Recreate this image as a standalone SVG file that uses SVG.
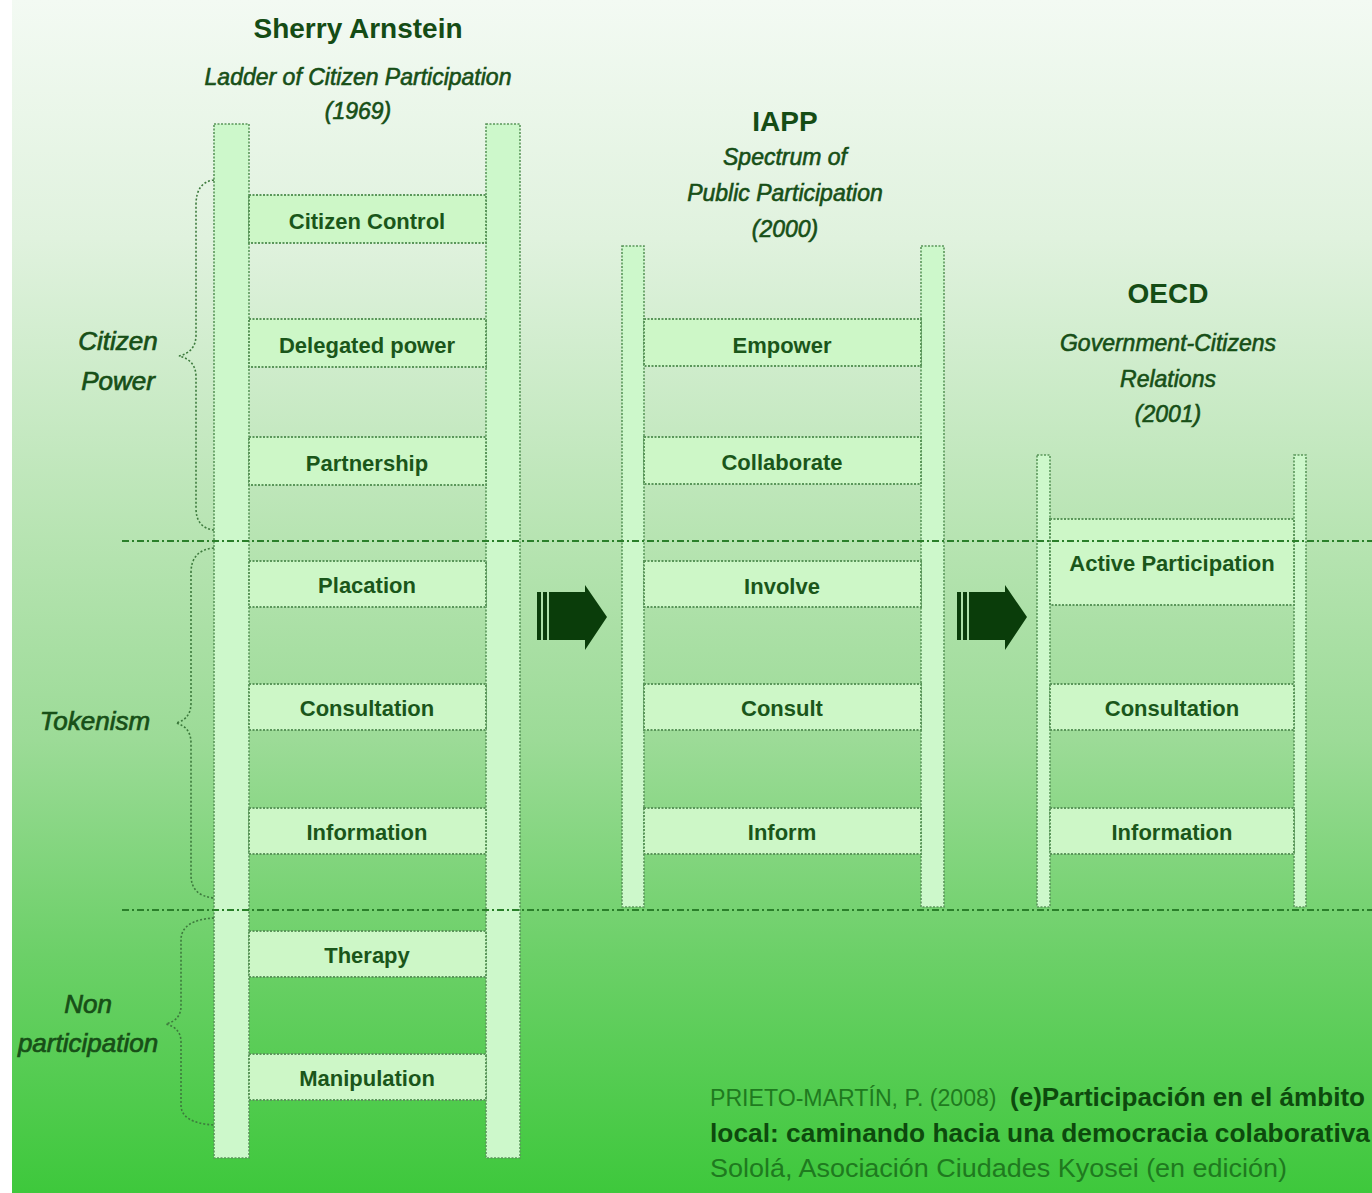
<svg xmlns="http://www.w3.org/2000/svg" width="1372" height="1193" viewBox="0 0 1372 1193">
<defs>
<linearGradient id="bg" x1="0" y1="0" x2="0" y2="1">
<stop offset="0" stop-color="#f3faf3"/>
<stop offset="0.2" stop-color="#e0f2de"/>
<stop offset="0.45" stop-color="#b7e4b2"/>
<stop offset="0.62" stop-color="#9cdb97"/>
<stop offset="0.8" stop-color="#6cd068"/>
<stop offset="1" stop-color="#3ec83c"/>
</linearGradient>
<g id="arrow">
<rect x="0" y="7" width="4" height="48" fill="#0a3d0a"/>
<rect x="6" y="7" width="4" height="48" fill="#0a3d0a"/>
<polygon points="12,7 48,7 48,0 70,32 48,65 48,55 12,55" fill="#0a3d0a"/>
</g>
</defs>
<style>
.rail{fill:#cdf8cb;stroke:#5a965a;stroke-width:1.6;stroke-dasharray:2 1.5}
.rung{fill:#cdf7c7;stroke:#5a965a;stroke-width:2;stroke-dasharray:2 1.5}
.rt{font-family:"Liberation Sans",Arial,sans-serif;font-weight:bold;font-size:22px;fill:#1a561a;text-anchor:middle}
.title{font-family:"Liberation Sans",Arial,sans-serif;font-weight:bold;font-size:28px;fill:#154c15;text-anchor:middle}
.sub{font-family:"Liberation Sans",Arial,sans-serif;font-style:italic;font-size:23px;fill:#174f17;stroke:#174f17;stroke-width:0.6;text-anchor:middle}
.lab{font-family:"Liberation Sans",Arial,sans-serif;font-style:italic;font-size:26px;fill:#174f17;stroke:#174f17;stroke-width:0.7;text-anchor:middle}
.brace{fill:none;stroke:#3d7a3d;stroke-width:1.6;stroke-dasharray:2 2}
.div{stroke:#2a7f2a;stroke-width:2.2;stroke-dasharray:7 3 2 3;fill:none}
.cit{font-family:"Liberation Sans",Arial,sans-serif;font-size:26px;fill:#1f7a1f}
.citb{font-weight:bold;fill:#0d4a0d}
</style>
<rect x="0" y="0" width="1372" height="1193" fill="url(#bg)"/>

<g id="ladder-arnstein">
<text class="title" x="358" y="38">Sherry Arnstein</text>
<text class="sub" x="358" y="85">Ladder of Citizen Participation</text>
<text class="sub" x="358" y="119">(1969)</text>
<rect class="rail" x="214" y="124" width="35" height="1034"/>
<rect class="rail" x="486" y="124" width="34" height="1034"/>
<g id="r-citizen-control"><rect class="rung" x="249" y="195" width="237" height="48"/><text class="rt" x="367" y="229">Citizen Control</text></g>
<g id="r-delegated-power"><rect class="rung" x="249" y="319" width="237" height="48"/><text class="rt" x="367" y="353">Delegated power</text></g>
<g id="r-partnership"><rect class="rung" x="249" y="437" width="237" height="48"/><text class="rt" x="367" y="471">Partnership</text></g>
<g id="r-placation"><rect class="rung" x="249" y="561" width="237" height="46"/><text class="rt" x="367" y="593">Placation</text></g>
<g id="r-consultation"><rect class="rung" x="249" y="684" width="237" height="46"/><text class="rt" x="367" y="716">Consultation</text></g>
<g id="r-information"><rect class="rung" x="249" y="808" width="237" height="46"/><text class="rt" x="367" y="840">Information</text></g>
<g id="r-therapy"><rect class="rung" x="249" y="931" width="237" height="46"/><text class="rt" x="367" y="963">Therapy</text></g>
<g id="r-manipulation"><rect class="rung" x="249" y="1054" width="237" height="46"/><text class="rt" x="367" y="1086">Manipulation</text></g>
</g>

<g id="ladder-iapp">
<text class="title" x="785" y="131">IAPP</text>
<text class="sub" x="785" y="165">Spectrum of</text>
<text class="sub" x="785" y="201">Public Participation</text>
<text class="sub" x="785" y="237">(2000)</text>
<rect class="rail" x="622" y="246" width="22" height="661"/>
<rect class="rail" x="921" y="246" width="23" height="661"/>
<g id="i-empower"><rect class="rung" x="644" y="319" width="277" height="47"/><text class="rt" x="782" y="353">Empower</text></g>
<g id="i-collaborate"><rect class="rung" x="644" y="437" width="277" height="47"/><text class="rt" x="782" y="470">Collaborate</text></g>
<g id="i-involve"><rect class="rung" x="644" y="561" width="277" height="46"/><text class="rt" x="782" y="594">Involve</text></g>
<g id="i-consult"><rect class="rung" x="644" y="684" width="277" height="46"/><text class="rt" x="782" y="716">Consult</text></g>
<g id="i-inform"><rect class="rung" x="644" y="808" width="277" height="46"/><text class="rt" x="782" y="840">Inform</text></g>
</g>

<g id="ladder-oecd">
<text class="title" x="1168" y="303">OECD</text>
<text class="sub" x="1168" y="351">Government-Citizens</text>
<text class="sub" x="1168" y="387">Relations</text>
<text class="sub" x="1168" y="422">(2001)</text>
<rect class="rail" x="1037" y="455" width="13" height="452"/>
<rect class="rail" x="1294" y="455" width="12" height="452"/>
<g id="o-active"><rect class="rung" x="1050" y="519" width="244" height="86"/><text class="rt" x="1172" y="571">Active Participation</text></g>
<g id="o-consultation"><rect class="rung" x="1050" y="684" width="244" height="46"/><text class="rt" x="1172" y="716">Consultation</text></g>
<g id="o-information"><rect class="rung" x="1050" y="808" width="244" height="46"/><text class="rt" x="1172" y="840">Information</text></g>
</g>

<g id="connectors">
<line class="div" x1="122" y1="541" x2="1372" y2="541"/>
<line class="div" x1="122" y1="910" x2="1372" y2="910"/>
<path class="brace" d="M214,180 Q196,182 196,205 L196,335 Q196,352 179,356 Q196,360 196,377 L196,508 Q196,528 214,530"/>
<path class="brace" d="M214,548 Q191,550 191,573 L191,703 Q191,719 176,723 Q191,727 191,743 L191,875 Q191,896 214,898"/>
<path class="brace" d="M214,918 Q181,920 181,940 L181,1006 Q181,1020 166,1024 Q181,1028 181,1042 L181,1105 Q181,1123 214,1125"/>
<use href="#arrow" x="537" y="585"/>
<use href="#arrow" x="957" y="585"/>
</g>

<g id="labels">
<text class="lab" x="118" y="350">Citizen</text>
<text class="lab" x="118" y="390">Power</text>
<text class="lab" x="95" y="730">Tokenism</text>
<text class="lab" x="88" y="1013">Non</text>
<text class="lab" x="88" y="1052">participation</text>
</g>

<g id="citation">
<text class="cit" x="710" y="1106"><tspan font-size="23" textLength="293" lengthAdjust="spacingAndGlyphs">PRIETO-MARTÍN, P. (2008) </tspan><tspan class="citb" x="1010" textLength="355" lengthAdjust="spacingAndGlyphs">(e)Participación en el ámbito</tspan></text>
<text class="cit citb" x="710" y="1142" textLength="660" lengthAdjust="spacingAndGlyphs">local: caminando hacia una democracia colaborativa</text>
<text class="cit" x="710" y="1177" fill="#2c8c2c" textLength="577" lengthAdjust="spacingAndGlyphs">Sololá, Asociación Ciudades Kyosei (en edición)</text>
</g>
<rect x="0" y="0" width="12" height="1193" fill="#ffffff"/>
</svg>
